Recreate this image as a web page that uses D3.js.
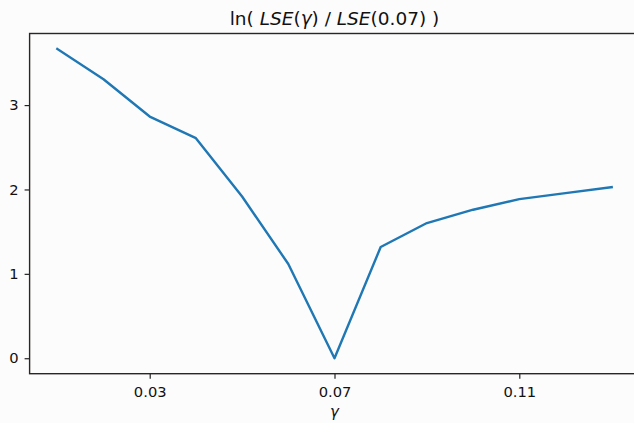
<!DOCTYPE html>
<html>
<head>
<meta charset="utf-8">
<script src="https://cdn.jsdelivr.net/npm/d3@7"></script>
<style>
  html, body { margin: 0; padding: 0; background: #fcfcfd; overflow: hidden; }
  svg { display: block; font-family: "DejaVu Sans", sans-serif; }
</style>
</head>
<body>
<div id="chart"></div>
<script>
// gamma values and ln(LSE(gamma)/LSE(0.07))
const gammas = [0.01, 0.02, 0.03, 0.04, 0.05, 0.06, 0.07, 0.08, 0.09, 0.10, 0.11, 0.12, 0.13];
const logRatio = [3.665, 3.306, 2.864, 2.608, 1.917, 1.117, 0.0, 1.318, 1.602, 1.760, 1.886, 1.957, 2.028];
const xTicks = [0.03, 0.07, 0.11];
const yTicks = [0, 1, 2, 3];

const width = 634, height = 423;
const margin = { top: 33.5, right: -5.4, bottom: 49.3, left: 29.6 };

const svg = d3.select('#chart').append('svg')
    .attr('width', width)
    .attr('height', height);

// matplotlib style 5% padding around the data
const xPad = (d3.max(gammas) - d3.min(gammas)) * 0.05;
const yPad = (d3.max(logRatio) - d3.min(logRatio)) * 0.05;

const x = d3.scaleLinear()
    .domain([d3.min(gammas) - xPad, d3.max(gammas) + xPad])
    .range([margin.left, width - margin.right]);

const y = d3.scaleLinear()
    .domain([d3.min(logRatio) - yPad, d3.max(logRatio) + yPad])
    .range([height - margin.bottom, margin.top]);

// the line
const line = d3.line()
    .x((d, i) => x(gammas[i]))
    .y(d => y(d));

svg.append('path')
    .datum(logRatio)
    .attr('fill', 'none')
    .attr('stroke', '#1f77b4')
    .attr('stroke-width', 2.4)
    .attr('stroke-linejoin', 'round')
    .attr('stroke-linecap', 'square')
    .attr('d', line);

// axes
const xAxis = svg.append('g')
    .attr('transform', `translate(0,${height - margin.bottom})`)
    .call(d3.axisBottom(x).tickValues(xTicks).tickFormat(d3.format('.2f'))
        .tickSizeOuter(0).tickSize(5).tickPadding(7.5));

const yAxis = svg.append('g')
    .attr('transform', `translate(${margin.left},0)`)
    .call(d3.axisLeft(y).tickValues(yTicks).tickFormat(d3.format('d'))
        .tickSizeOuter(0).tickSize(5).tickPadding(6));

[xAxis, yAxis].forEach(g => {
    g.select('.domain').remove();
    g.selectAll('.tick line').attr('stroke', '#222').attr('stroke-width', 1.2);
    g.selectAll('.tick text')
        .attr('fill', '#111')
        .style('font-size', '14.7px')
        .style('font-family', '"DejaVu Sans", sans-serif');
});

// frame
svg.append('rect')
    .attr('x', margin.left)
    .attr('y', margin.top)
    .attr('width', x.range()[1] - margin.left)
    .attr('height', y.range()[0] - margin.top)
    .attr('fill', 'none')
    .attr('stroke', '#2b2624')
    .attr('stroke-width', 1.4);

// title
const title = svg.append('text')
    .attr('x', (x.range()[0] + x.range()[1]) / 2)
    .attr('y', 24.5)
    .attr('text-anchor', 'middle')
    .attr('fill', '#111')
    .style('font-size', '18.5px');
title.append('tspan').text('ln( ');
title.append('tspan').attr('font-style', 'italic').text('LSE');
title.append('tspan').text('(');
title.append('tspan').attr('font-style', 'italic').text('γ');
title.append('tspan').text(') / ');
title.append('tspan').attr('font-style', 'italic').text('LSE');
title.append('tspan').text('(0.07) )');

// x label
svg.append('text')
    .attr('x', (x.range()[0] + x.range()[1]) / 2)
    .attr('y', 417)
    .attr('text-anchor', 'middle')
    .attr('fill', '#111')
    .attr('font-style', 'italic')
    .style('font-size', '15px')
    .text('γ');
</script>
</body>
</html>
